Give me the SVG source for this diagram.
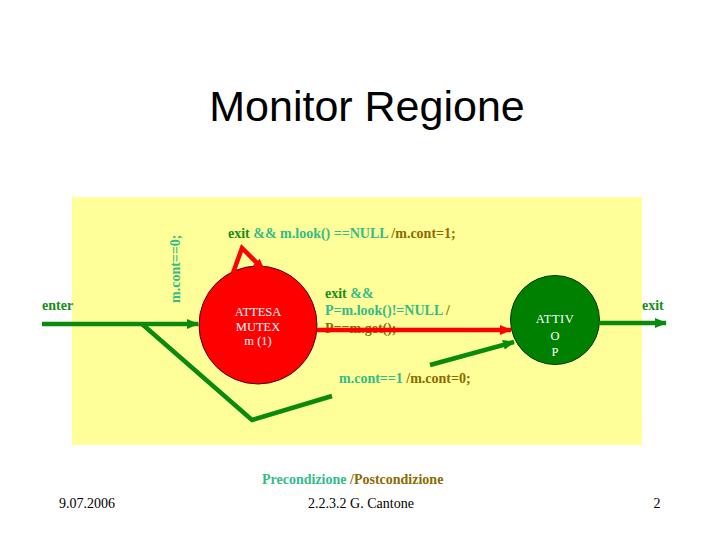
<svg xmlns="http://www.w3.org/2000/svg" width="720" height="540" viewBox="0 0 720 540">
<style>
.lbl{font-family:"Liberation Serif","Times New Roman",serif;font-size:14px;font-weight:bold}
.dg{fill:#1a8c1a}.tl{fill:#33bb88}.ol{fill:#8c6a00}
.ntxt{font-family:"Liberation Serif","Times New Roman",serif;font-size:12.5px;fill:#ffffff;text-anchor:middle}
.foot{font-family:"Liberation Serif","Times New Roman",serif;font-size:14px;fill:#000}
.g{stroke:#0a8a0a;stroke-width:4.5;fill:none}
.r{stroke:#ff0000;stroke-width:4.5;fill:none}
</style>
<defs>
<marker id="ag" markerUnits="userSpaceOnUse" markerWidth="12" markerHeight="12" viewBox="0 0 12 12" refX="11" refY="6" orient="auto"><path d="M0,1 L12,6 L0,11 Z" fill="#0a8a0a"/></marker>
<marker id="ar" markerUnits="userSpaceOnUse" markerWidth="12" markerHeight="12" viewBox="0 0 12 12" refX="11" refY="6" orient="auto"><path d="M0,1 L12,6 L0,11 Z" fill="#ff0000"/></marker>
</defs>
<rect width="720" height="540" fill="#ffffff"/>
<text x="367" y="121" font-family="Liberation Sans,Arial,sans-serif" font-size="43" text-anchor="middle" fill="#000">Monitor Regione</text>
<rect x="72" y="197" width="570" height="248" fill="#ffff99"/>
<g id="attesa">
<circle cx="258" cy="325" r="59" fill="#ff0000" stroke="#550000" stroke-width="1"/>
<text class="ntxt" x="258" y="316">ATTESA</text>
<text class="ntxt" x="258" y="331">MUTEX</text>
<text class="ntxt" x="258" y="345">m (1)</text>
</g>
<g id="attivo">
<circle cx="555" cy="320" r="44.5" fill="#008000" stroke="#003300" stroke-width="1"/>
<text class="ntxt" x="555" y="323" font-size="13.5" letter-spacing="0.5">ATTIV</text>
<text class="ntxt" x="555" y="340" font-size="13.5">O</text>
<text class="ntxt" x="555" y="356" font-size="13.5">P</text>
</g>
<g id="labels">
<text class="lbl dg" x="42" y="310">enter</text>
<text class="lbl tl" transform="translate(180,303) rotate(-90)">m.cont==0;</text>
<text class="lbl" x="228" y="238"><tspan class="dg">exit </tspan><tspan class="tl">&amp;&amp; m.look() ==NULL </tspan><tspan class="ol">/m.cont=1;</tspan></text>
<text class="lbl dg" x="325" y="298">exit <tspan class="tl">&amp;&amp;</tspan></text>
<text class="lbl tl" x="325" y="315">P=m.look()!=NULL <tspan class="ol">/</tspan></text>
<text class="lbl ol" x="325" y="333">P==m.get();</text>
<text class="lbl dg" x="642" y="310">exit</text>
<text class="lbl" x="339" y="383"><tspan class="tl">m.cont==1 </tspan><tspan class="ol">/m.cont=0;</tspan></text>
<text class="lbl" x="262" y="484"><tspan class="tl">Precondizione </tspan><tspan class="ol">/Postcondizione</tspan></text>
</g>
<g id="connectors">
<line class="g" x1="42" y1="324" x2="198" y2="324" marker-end="url(#ag)"/>
<polyline class="g" points="142,324 252,420 332,396"/>
<line class="g" x1="430" y1="365" x2="514" y2="342" marker-end="url(#ag)"/>
<polyline class="r" points="233,273 242,248 264,270" marker-end="url(#ar)"/>
<line class="r" x1="317" y1="330" x2="511" y2="330" marker-end="url(#ar)"/>
<line class="g" x1="599" y1="323" x2="666" y2="323" marker-end="url(#ag)"/>
</g>
<g id="footer">
<text class="foot" x="59" y="508">9.07.2006</text>
<text class="foot" x="361" y="508" text-anchor="middle">2.2.3.2 G. Cantone</text>
<text class="foot" x="657" y="508" text-anchor="middle">2</text>
</g>
</svg>
